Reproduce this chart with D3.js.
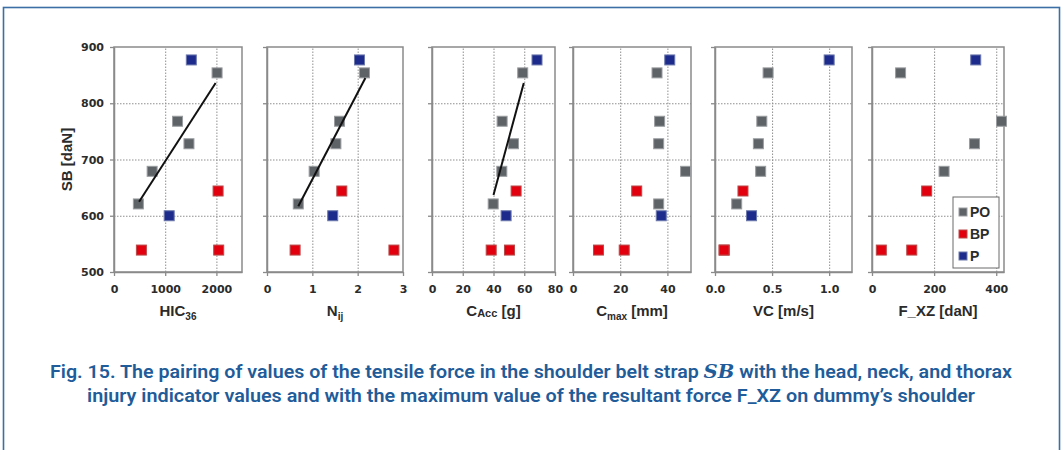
<!DOCTYPE html>
<html>
<head>
<meta charset="utf-8">
<script src="https://cdn.jsdelivr.net/npm/d3@7"></script>
<style>
  html, body { margin: 0; padding: 0; background: #fff; }
  svg { display: block; }
</style>
</head>
<body>
<div id="container"></div>
<script>
//### DATA ###
//>>> Shoulder belt force SB [daN], one array per dummy group
const sbPO = [ 621, 679, 728, 768, 854 ];
const sbBP = [ 539, 539, 644 ];
const sbP = [ 600, 877 ];

//>>> Injury indicators paired with the SB values above
const hicPO = [ 476, 745, 1464, 1241, 2013 ];
const hicBP = [ 535, 2045, 2033 ];
const hicP = [ 1078, 1510 ];

const nijPO = [ 0.69, 1.04, 1.52, 1.60, 2.15 ];
const nijBP = [ 0.62, 2.80, 1.65 ];
const nijP = [ 1.45, 2.04 ];

const caccPO = [ 39.8, 45.4, 53.0, 45.6, 59.0 ];
const caccBP = [ 38.5, 50.4, 54.7 ];
const caccP = [ 48.2, 68.3 ];

const cmaxPO = [ 36.3, 47.7, 36.3, 36.7, 35.6 ];
const cmaxBP = [ 10.8, 21.7, 27.0 ];
const cmaxP = [ 37.4, 41.0 ];

const vcPO = [ 0.19, 0.40, 0.38, 0.41, 0.465 ];
const vcBP = [ 0.08, 0.08, 0.245 ];
const vcP = [ 0.32, 1.00 ];

//>>> (PO 621 and P 600 sit behind the legend box)
const fxzPO = [ 330, 232, 330, 417, 92 ];
const fxzBP = [ 30, 128, 176 ];
const fxzP = [ 300, 334 ];

//>>> Linear trend lines of the PO group (start, end)
const trendHIC = [ [ 490, 625 ], [ 1985, 836 ] ];
const trendNij = [ [ 0.69, 617 ], [ 2.17, 845 ] ];
const trendCAcc = [ [ 40, 637 ], [ 59.7, 836 ] ];

//>>> Axes
const sbTicks = [ 500, 600, 700, 800, 900 ];
const groups = [ 'PO', 'BP', 'P' ];

const captionLine1 = [ 'Fig. 15. The pairing of values of the tensile force in the shoulder belt strap ', 'SB', ' with the head, neck, and thorax' ];
const captionLine2 = 'injury indicator values and with the maximum value of the resultant force F_XZ on dummy\u2019s shoulder';


//### LAYOUT ###
const width = 1062;
const height = 450;
const plotTop = 47;
const plotBottom = 272;
const gridColor = '#8f8f8f';
const textColor = '#2b2b2b';
const groupFill = { PO: '#5e6367', BP: '#e2000f', P: '#1d2c8c' };
const groupStroke = { PO: '#9a9da0', BP: '#b94a4a', P: '#6c78ac' };

//>>> One entry per panel, built from the arrays above
const panels = [
  { left: 114, right: 242, domain: [ 0, 2500 ], ticks: [ 0, 1000, 2000 ], fmt: d3.format( 'd' ),
    title: [ [ 'HIC', 0 ], [ '36', 1 ] ], po: hicPO, bp: hicBP, p: hicP, trend: trendHIC },
  { left: 267, right: 403, domain: [ 0, 3 ], ticks: [ 0, 1, 2, 3 ], fmt: d3.format( 'd' ),
    title: [ [ 'N', 0 ], [ 'ij', 1 ] ], po: nijPO, bp: nijBP, p: nijP, trend: trendNij },
  { left: 432, right: 555, domain: [ 0, 80 ], ticks: [ 0, 20, 40, 60, 80 ], fmt: d3.format( 'd' ),
    title: [ [ 'C', 0 ], [ 'Acc', 2 ], [ ' [g]', 0 ] ], po: caccPO, bp: caccBP, p: caccP, trend: trendCAcc },
  { left: 573, right: 691, domain: [ 0, 50 ], ticks: [ 0, 20, 40 ], fmt: d3.format( 'd' ),
    title: [ [ 'C', 0 ], [ 'max', 1 ], [ ' [mm]', 0 ] ], po: cmaxPO, bp: cmaxBP, p: cmaxP, trend: null },
  { left: 715, right: 852, domain: [ 0, 1.2 ], ticks: [ 0, 0.5, 1.0 ], fmt: d3.format( '.1f' ),
    title: [ [ 'VC [m/s]', 0 ] ], po: vcPO, bp: vcBP, p: vcP, trend: null },
  { left: 872, right: 1004, domain: [ 0, 425 ], ticks: [ 0, 200, 400 ], fmt: d3.format( 'd' ),
    title: [ [ 'F_XZ [daN]', 0 ] ], po: fxzPO, bp: fxzBP, p: fxzP, trend: null, legend: true }
];


//_____ SVG _____
const svg = d3.select( '#container' )
  .append( 'svg' )
  .attr( 'width', width )
  .attr( 'height', height )
  .style( 'font-family', '"Liberation Sans", Arial, sans-serif' );

//>>> Blue frame around the figure
svg.append( 'rect' )
  .attr( 'x', 3.5 ).attr( 'y', 7.5 )
  .attr( 'width', 1056 ).attr( 'height', 460 )
  .attr( 'fill', 'none' )
  .attr( 'stroke', '#3b6fa6' )
  .attr( 'stroke-width', 1.6 );

const y = d3.scaleLinear().domain( [ 500, 900 ] ).range( [ plotBottom, plotTop ] );

panels.forEach( ( pn, idx ) => {
  const x = d3.scaleLinear().domain( pn.domain ).range( [ pn.left, pn.right ] );
  const g = svg.append( 'g' );
  const pw = pn.right - pn.left;

  //>>> Dotted gridlines (interior ticks only)
  g.append( 'g' )
    .attr( 'transform', `translate(${pn.left},0)` )
    .call( d3.axisLeft( y ).tickValues( [ 600, 700, 800 ] ).tickSize( -pw ).tickFormat( '' ) )
    .call( a => a.select( '.domain' ).remove() )
    .selectAll( 'line' )
    .attr( 'stroke', gridColor ).attr( 'stroke-dasharray', '1.5,1.5' );

  g.append( 'g' )
    .attr( 'transform', `translate(0,${plotBottom})` )
    .call( d3.axisBottom( x ).tickValues( pn.ticks.filter( t => t > pn.domain[ 0 ] && t < pn.domain[ 1 ] ) )
      .tickSize( -( plotBottom - plotTop ) ).tickFormat( '' ) )
    .call( a => a.select( '.domain' ).remove() )
    .selectAll( 'line' )
    .attr( 'stroke', gridColor ).attr( 'stroke-dasharray', '1.5,1.5' );

  //>>> Plot frame
  g.append( 'rect' )
    .attr( 'x', pn.left ).attr( 'y', plotTop )
    .attr( 'width', pw ).attr( 'height', plotBottom - plotTop )
    .attr( 'fill', 'none' )
    .attr( 'stroke', '#8a8a8a' )
    .attr( 'stroke-width', 1.5 );

  //>>> Y axis (labels only on the first panel)
  const yAxis = g.append( 'g' )
    .attr( 'transform', `translate(${pn.left},0)` )
    .call( d3.axisLeft( y ).tickValues( sbTicks ).tickSize( 4 ).tickSizeOuter( 0 )
      .tickFormat( idx === 0 ? d3.format( 'd' ) : '' ) );
  yAxis.select( '.domain' ).attr( 'stroke', '#8a8a8a' ).attr( 'stroke-width', 1.5 );
  yAxis.selectAll( 'line' ).attr( 'stroke', '#8a8a8a' ).attr( 'stroke-width', 1.3 );
  yAxis.selectAll( 'text' )
    .attr( 'x', -10 )
    .style( 'font-family', '"DejaVu Sans", sans-serif' )
    .style( 'font-size', '11px' ).style( 'font-weight', 'bold' ).attr( 'fill', textColor );

  //>>> X axis
  const xAxis = g.append( 'g' )
    .attr( 'transform', `translate(0,${plotBottom})` )
    .call( d3.axisBottom( x ).tickValues( pn.ticks ).tickSize( 4 ).tickSizeOuter( 0 ).tickFormat( pn.fmt ) );
  xAxis.select( '.domain' ).attr( 'stroke', '#8a8a8a' ).attr( 'stroke-width', 1.5 );
  xAxis.selectAll( 'line' ).attr( 'stroke', '#8a8a8a' ).attr( 'stroke-width', 1.3 );
  xAxis.selectAll( 'text' )
    .attr( 'y', 13 )
    .style( 'font-family', '"DejaVu Sans", sans-serif' )
    .style( 'font-size', '11px' ).style( 'font-weight', 'bold' ).attr( 'fill', textColor );

  //>>> X axis title with subscripts
  const title = g.append( 'text' )
    .attr( 'x', ( pn.left + pn.right ) / 2 )
    .attr( 'y', 316 )
    .attr( 'text-anchor', 'middle' )
    .style( 'font-size', '15px' ).style( 'font-weight', 'bold' ).attr( 'fill', textColor );
  pn.title.forEach( ( [ t, kind ], i ) => {
    const ts = title.append( 'tspan' ).text( t );
    if ( kind === 1 ) ts.attr( 'dy', 4 ).style( 'font-size', '10px' );
    if ( kind === 2 ) ts.attr( 'dy', 1 ).style( 'font-size', '11px' );
    if ( kind === 0 && i > 0 && pn.title[ i - 1 ][ 1 ] > 0 ) ts.attr( 'dy', pn.title[ i - 1 ][ 1 ] === 1 ? -4 : -1 );
  } );

  //>>> Markers
  const series = [
    { key: 'PO', xs: pn.po, ys: sbPO },
    { key: 'BP', xs: pn.bp, ys: sbBP },
    { key: 'P', xs: pn.p, ys: sbP }
  ];
  series.forEach( s => {
    g.selectAll( null )
      .data( s.xs.map( ( v, i ) => [ v, s.ys[ i ] ] ) )
      .enter()
      .append( 'rect' )
      .attr( 'x', d => x( d[ 0 ] ) - 5 )
      .attr( 'y', d => y( d[ 1 ] ) - 5 )
      .attr( 'width', 10 ).attr( 'height', 10 )
      .attr( 'fill', groupFill[ s.key ] )
      .attr( 'stroke', groupStroke[ s.key ] )
      .attr( 'stroke-width', 1 );
  } );

  //>>> Trend line
  if ( pn.trend ) {
    g.append( 'path' )
      .attr( 'd', d3.line().x( d => x( d[ 0 ] ) ).y( d => y( d[ 1 ] ) )( pn.trend ) )
      .attr( 'fill', 'none' )
      .attr( 'stroke', '#111' )
      .attr( 'stroke-width', 2 );
  }

  //>>> Legend in the last panel
  if ( pn.legend ) {
    const lg = g.append( 'g' ).attr( 'transform', `translate(${pn.right - 51},197)` );
    lg.append( 'rect' )
      .attr( 'width', 46 ).attr( 'height', 71 )
      .attr( 'fill', '#fff' ).attr( 'stroke', '#6a6a6a' ).attr( 'stroke-width', 1 );
    groups.forEach( ( k, i ) => {
      lg.append( 'rect' )
        .attr( 'x', 6 ).attr( 'y', 11 + i * 22 )
        .attr( 'width', 8 ).attr( 'height', 8 )
        .attr( 'fill', groupFill[ k ] ).attr( 'stroke', groupStroke[ k ] );
      lg.append( 'text' )
        .attr( 'x', 17 ).attr( 'y', 20 + i * 22 )
        .text( k )
        .style( 'font-size', '14px' ).style( 'font-weight', 'bold' ).attr( 'fill', textColor );
    } );
  }
} );

//>>> Y axis title
svg.append( 'text' )
  .attr( 'transform', `translate(72,${( plotTop + plotBottom ) / 2}) rotate(-90)` )
  .attr( 'text-anchor', 'middle' )
  .text( 'SB [daN]' )
  .style( 'font-size', '15px' ).style( 'font-weight', 'bold' ).attr( 'fill', textColor );


//_____ CAPTION _____
const captionFont = 'Roboto, "Liberation Sans Narrow", sans-serif';
const cap1 = svg.append( 'text' )
  .attr( 'x', 531 ).attr( 'y', 378 )
  .attr( 'text-anchor', 'middle' )
  .attr( 'textLength', 962 ).attr( 'lengthAdjust', 'spacingAndGlyphs' )
  .style( 'font-family', captionFont )
  .style( 'font-size', '18px' ).style( 'font-weight', '600' ).attr( 'fill', '#1f5c99' );
captionLine1.forEach( ( t, i ) => {
  const ts = cap1.append( 'tspan' ).text( t );
  if ( i === 1 ) ts.style( 'font-family', '"DejaVu Serif", "Liberation Serif", serif' ).style( 'font-style', 'italic' );
} );

svg.append( 'text' )
  .attr( 'x', 531 ).attr( 'y', 402 )
  .attr( 'text-anchor', 'middle' )
  .attr( 'textLength', 888 ).attr( 'lengthAdjust', 'spacingAndGlyphs' )
  .style( 'font-family', captionFont )
  .style( 'font-size', '18px' ).style( 'font-weight', '600' ).attr( 'fill', '#1f5c99' )
  .text( captionLine2 );
</script>
</body>
</html>
